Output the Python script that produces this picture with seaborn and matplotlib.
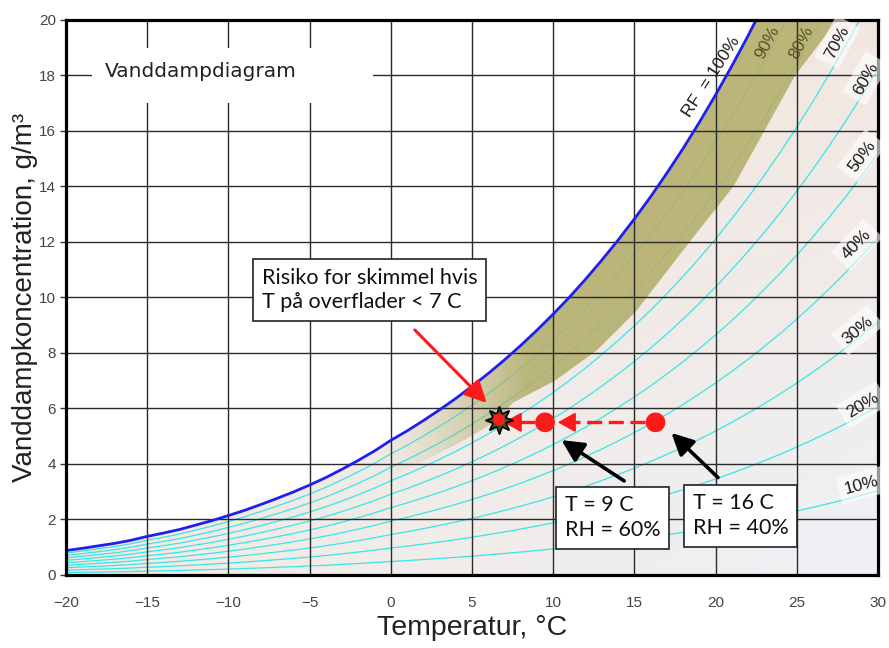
import numpy as np
import pandas as pd
import matplotlib
matplotlib.use("Agg")
import matplotlib.pyplot as plt
import seaborn as sns
from matplotlib.patches import Polygon, Rectangle
from matplotlib.colors import to_rgb

# ---------------- data ----------------
temps = list(range(-20, 31))
sat_conc = [0.88, 0.96, 1.05, 1.14, 1.25, 1.39, 1.51, 1.64, 1.80, 1.96,
            2.14, 2.33, 2.54, 2.76, 2.99, 3.24, 3.51, 3.81, 4.13, 4.47,
            4.85, 5.19, 5.56, 5.95, 6.36, 6.80, 7.26, 7.75, 8.27, 8.82,
            9.40, 10.01, 10.66, 11.35, 12.07, 12.83, 13.63, 14.48, 15.37, 16.31,
            17.30, 18.34, 19.43, 20.58, 21.78, 23.05, 24.38, 25.78, 27.24, 28.78,
            30.38]
rh_levels = [10, 20, 30, 40, 50, 60, 70, 80, 90]

# lower edge of the mould-risk band (upper edge = saturation curve)
band_T = [-1, 2, 4.5, 6.65, 7.5, 10.1, 12.7, 15.1, 18.4, 21.1, 23.0, 24.9, 27.5, 30]
band_low = [3.3, 4.1, 4.85, 5.6, 6.2, 7.0, 8.1, 9.5, 12.0, 14.0, 16.0, 18.0, 20.0, 22.5]

state_T = [16.3, 9.5, 6.65]
state_c = [5.5, 5.5, 5.6]

x_ticks = [-20, -15, -10, -5, 0, 5, 10, 15, 20, 25, 30]
y_ticks = [0, 2, 4, 6, 8, 10, 12, 14, 16, 18, 20]

rh_label_text = ["RF  = 100%", "90%", "80%", "70%", "60%", "50%", "40%", "30%", "20%", "10%"]

# ---------------- style ----------------
sns.set_theme(style="white")
plt.rcParams["font.family"] = ["Liberation Sans", "DejaVu Sans"]

fig = plt.figure(figsize=(8.89, 6.48), dpi=100)
ax = fig.add_axes([0.0742, 0.1127, 0.9134, 0.8565])
ax.set_facecolor("white")

# background gradient under saturation curve
tl, tr = np.array(to_rgb("#f1e2d8")), np.array(to_rgb("#f3e7e0"))
bl, br = np.array(to_rgb("#f3eae3")), np.array(to_rgb("#eef1f5"))
ny, nx = 100, 100
u = np.linspace(0, 1, nx)[None, :, None]
v = np.linspace(0, 1, ny)[:, None, None]
grad = (1 - v) * ((1 - u) * tl + u * tr) + v * ((1 - u) * bl + u * br)
im_bg = ax.imshow(grad, extent=(-20, 30, 0, 20), origin="upper",
                  aspect="auto", zorder=0.5, interpolation="bilinear")
under = Polygon([(-20, 0)] + list(zip(temps, sat_conc)) + [(30, 0)],
                closed=True, transform=ax.transData, fc="none", ec="none")
ax.add_patch(under)
im_bg.set_clip_path(under)

# RH curves
rows = []
for rh in rh_levels:
    for t, s in zip(temps, sat_conc):
        rows.append({"T": t, "c": s * rh / 100.0, "rh": rh})
df_rh = pd.DataFrame(rows)
sns.lineplot(data=df_rh, x="T", y="c", hue="rh", units="rh", estimator=None,
             palette=["#38e6e6"] * len(rh_levels), lw=0.9, legend=False,
             ax=ax, zorder=1.2)

# mould-risk band with fade to the left
olive = np.array(to_rgb("#b2ad68"))
nxb = 400
xs = np.linspace(-20, 30, nxb)
ramp = np.clip((xs + 1.0) / 9.5, 0, 1)
alpha = (ramp ** 1.3) * 0.86
band_img = np.zeros((1, nxb, 4))
band_img[0, :, :3] = olive
band_img[0, :, 3] = alpha
im_band = ax.imshow(band_img, extent=(-20, 30, 0, 20), origin="upper",
                    aspect="auto", zorder=1.5, interpolation="bilinear")
band_verts = list(zip(band_T, band_low)) + \
    [(t, s) for t, s in reversed(list(zip(temps, sat_conc))) if t >= band_T[0]]
band_poly = Polygon(band_verts, closed=True, transform=ax.transData,
                    fc="none", ec="none")
ax.add_patch(band_poly)
im_band.set_clip_path(band_poly)

# saturation curve
df_sat = pd.DataFrame({"T": temps, "c": sat_conc})
sns.lineplot(data=df_sat, x="T", y="c", color="#1f1fee", lw=2.0, ax=ax,
             zorder=3)

ax.set_xlim(-20, 30)
ax.set_ylim(0, 20)
ax.set_xticks(x_ticks)
ax.set_yticks(y_ticks)
ax.set_axisbelow(False)
ax.grid(True, color="#2a2a2a", lw=1.0)
for sp in ax.spines.values():
    sp.set_color("black")
    sp.set_linewidth(2.3)
    sp.set_zorder(4)
ax.tick_params(axis="y", which="both", left=True, length=4, width=1,
               color="#333333", labelsize=11, labelcolor="#444444", pad=3)
ax.tick_params(axis="x", bottom=False, labelsize=11, labelcolor="#444444",
               pad=9)

ax.set_xlabel("Temperatur, °C", fontsize=20.5, color="#222222", labelpad=4)
ax.set_ylabel("Vanddampkoncentration, g/m³", fontsize=20, color="#222222",
              labelpad=1)

# title box
ax.add_patch(Rectangle((-18.41, 17.0), 17.3, 1.99, fc="white", ec="none",
                       zorder=2.7))
ax.text(-17.6, 18.13, "Vanddampdiagram", fontsize=14.5, va="center",
        ha="left", color="#222222", family="DejaVu Sans", zorder=5)

# RH labels
lab_pos = [(19.75, 17.95, 57), (23.2, 19.2, 62), (25.3, 19.2, 62),
           (27.5, 19.2, 62), (29.25, 17.9, 60), (29.0, 15.1, 53),
           (28.7, 11.9, 46), (28.75, 8.83, 40), (29.06, 6.13, 31),
           (29.0, 3.24, 15)]
for i, (txt, (x, y, r)) in enumerate(zip(rh_label_text, lab_pos)):
    col = "#55522a" if i in (1, 2) else "#1a1a1a"
    bbox = None if i < 3 else dict(boxstyle="square,pad=0.35", fc="white",
                                    ec="none", alpha=0.6)
    ax.text(x, y, txt, rotation=r, rotation_mode="anchor", ha="center",
            va="center", fontsize=12.5, color=col,
            family="Liberation Sans", bbox=bbox, zorder=5)

# annotation boxes
box_kw = dict(boxstyle="square,pad=0.4", fc="white", ec="#222222", lw=1.2)
ax.text(-7.95, 10.27, "Risiko for skimmel hvis\nT på overflader < 7 C",
        fontsize=15.5, family="Lato", ha="left", va="center", color="#111111",
        bbox=box_kw, linespacing=1.3, zorder=6)
ax.text(10.71, 2.07, "T = 9 C\nRH = 60%", fontsize=15.5, family="Lato",
        ha="left", va="center", color="#111111", bbox=box_kw,
        linespacing=1.3, zorder=6)
ax.text(18.6, 2.13, "T = 16 C\nRH = 40%", fontsize=15.5, family="Lato",
        ha="left", va="center", color="#111111", bbox=box_kw,
        linespacing=1.3, zorder=6)

# arrows
ax.annotate("", xy=(5.91, 6.2), xytext=(1.48, 8.83),
            arrowprops=dict(arrowstyle="-|>,head_length=1.1,head_width=0.55",
                            color="#ff1a1a", lw=2.2, shrinkA=0, shrinkB=0),
            zorder=6)
ax.annotate("", xy=(10.51, 4.86), xytext=(14.37, 3.39),
            arrowprops=dict(arrowstyle="-|>,head_length=1.1,head_width=0.55",
                            color="black", lw=2.6, shrinkA=0, shrinkB=0),
            zorder=6)
ax.annotate("", xy=(17.28, 5.12), xytext=(20.15, 3.51),
            arrowprops=dict(arrowstyle="-|>,head_length=1.1,head_width=0.55",
                            color="black", lw=2.6, shrinkA=0, shrinkB=0),
            zorder=6)
# dashed red arrows between the states
for (x0, x1) in [(15.64, 10.28), (8.87, 6.95)]:
    ax.plot([x0, x1 + 0.5], [5.5, 5.5], color="#ff1a1a", lw=2.4,
            ls=(0, (4.5, 2)), zorder=6)
    ax.annotate("", xy=(x1, 5.5), xytext=(x1 + 0.55, 5.5),
                arrowprops=dict(arrowstyle="-|>,head_length=0.9,head_width=0.5",
                                color="#ff1a1a", lw=1.5, shrinkA=0, shrinkB=0),
                zorder=6)

# state points
ax.plot(state_T[2], state_c[2], marker=(8, 1, 0), ms=20, mfc="#4a4a1e",
        mec="black", mew=1.2, zorder=7)
df_pts = pd.DataFrame({"T": state_T, "c": state_c,
                       "s": [200, 200, 75]})
sns.scatterplot(data=df_pts, x="T", y="c", size="s", sizes=(75, 200),
                color="#ff1a1a", edgecolor="none", legend=False, ax=ax,
                zorder=8)

fig.savefig("out.png", dpi=100)
